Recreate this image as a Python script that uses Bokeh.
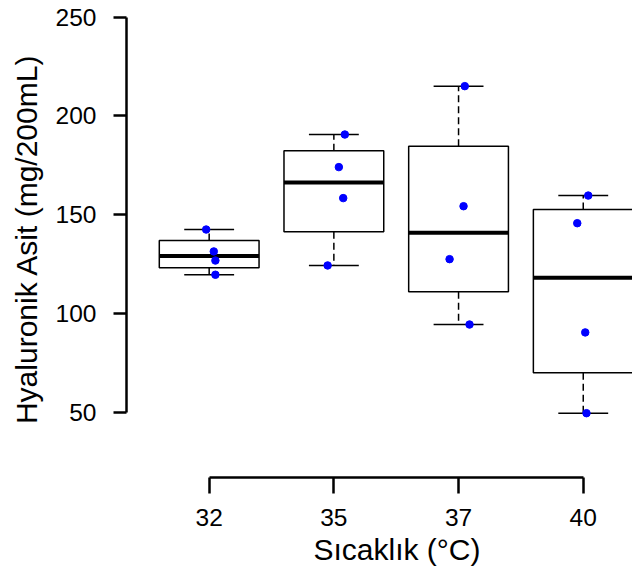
import numpy as np
from bokeh.plotting import figure
from bokeh.models import FixedTicker, Range1d, Title
from bokeh.embed import file_html
from bokeh.resources import INLINE

# ---- data ----
categories = ["32", "35", "37", "40"]
values_32 = [142.5, 131.4, 126.8, 119.6]
values_35 = [190.6, 174.1, 158.4, 124.3]
values_37 = [215.1, 154.3, 127.5, 94.4]
values_40 = [159.7, 145.7, 90.4, 49.5]
jitter_32 = [-0.024, 0.037, 0.05, 0.05]
jitter_35 = [0.088, 0.04, 0.075, -0.05]
jitter_37 = [0.05, 0.04, -0.072, 0.088]
jitter_40 = [0.04, -0.048, 0.016, 0.026]
y_ticks = [50, 100, 150, 200, 250]
x_title = "Sıcaklık (°C)"
y_title = "Hyaluronik Asit (mg/200mL)"

groups = [values_32, values_35, values_37, values_40]
jitters = [jitter_32, jitter_35, jitter_37, jitter_40]


def fivenum(v):
    x = np.sort(np.asarray(v, dtype=float))
    n = len(x)
    n4 = np.floor((n + 3) / 2) / 2
    d = np.array([1, n4, (n + 1) / 2, n + 1 - n4, n]) - 1
    return 0.5 * (x[np.floor(d).astype(int)] + x[np.ceil(d).astype(int)])


FONT = "Liberation Sans"
BOX_W = 0.8

p = figure(width=632, height=572, output_backend="svg", toolbar_location=None,
           x_range=Range1d(0.337, 4.395), y_range=Range1d(16.94, 258.46),
           min_border_left=126, min_border_right=0, min_border_top=0,
           min_border_bottom=95)
p.outline_line_color = None
p.xgrid.visible = False
p.ygrid.visible = False
p.background_fill_color = "white"
p.border_fill_color = "white"

xs = np.arange(1, len(categories) + 1)
stats = [fivenum(g) for g in groups]
q1 = [s[1] for s in stats]
med = [s[2] for s in stats]
q3 = [s[3] for s in stats]
lo, hi = [], []
for g, s in zip(groups, stats):
    iqr = s[3] - s[1]
    arr = np.asarray(g)
    lo.append(arr[arr >= s[1] - 1.5 * iqr].min())
    hi.append(arr[arr <= s[3] + 1.5 * iqr].max())

# whiskers (dashed)
p.segment(x0=xs, x1=xs, y0=q3, y1=hi, line_color="black", line_width=1.5, line_dash="7 4")
p.segment(x0=xs, x1=xs, y0=q1, y1=lo, line_color="black", line_width=1.5, line_dash="7 4")
# caps
p.segment(x0=xs - BOX_W / 4, x1=xs + BOX_W / 4, y0=hi, y1=hi, line_color="black", line_width=1.5)
p.segment(x0=xs - BOX_W / 4, x1=xs + BOX_W / 4, y0=lo, y1=lo, line_color="black", line_width=1.5)
# boxes
p.quad(left=xs - BOX_W / 2, right=xs + BOX_W / 2, bottom=q1, top=q3,
       fill_color="white", line_color="black", line_width=1.5)
# medians
p.segment(x0=xs - BOX_W / 2, x1=xs + BOX_W / 2, y0=med, y1=med, line_color="black", line_width=4)

# points
px, py = [], []
for i, (g, j) in enumerate(zip(groups, jitters)):
    for v, o in zip(g, j):
        px.append(xs[i] + o)
        py.append(v)
p.scatter(px, py, size=7.5, fill_color="#0000FF", line_color="#0000FF")

# axes
xa = p.xaxis[0]
xa.ticker = FixedTicker(ticks=list(xs))
xa.major_label_overrides = {int(x): c for x, c in zip(xs, categories)}
xa.bounds = (1, len(categories))
xa.minor_tick_line_color = None
xa.major_tick_out = 16
xa.major_tick_in = 0
xa.axis_line_width = 2.5
xa.major_tick_line_width = 2.5
xa.major_label_text_font = FONT
xa.major_label_text_font_size = "24.5px"
xa.major_label_text_color = "black"
xa.major_label_standoff = 15

ya = p.yaxis[0]
ya.ticker = FixedTicker(ticks=y_ticks)
ya.bounds = (y_ticks[0], y_ticks[-1])
ya.minor_tick_line_color = None
ya.major_tick_out = 13
ya.major_tick_in = 0
ya.axis_line_width = 2.5
ya.major_tick_line_width = 2.5
ya.major_label_text_font = FONT
ya.major_label_text_font_size = "24.5px"
ya.major_label_text_color = "black"
ya.major_label_standoff = 17
ya.major_label_orientation = "horizontal"
ya.axis_label = y_title
ya.axis_label_text_font = FONT
ya.axis_label_text_font_size = "30px"
ya.axis_label_text_font_style = "normal"
ya.axis_label_text_color = "black"
ya.axis_label_standoff = 10

p.add_layout(Title(text=x_title, align="left", offset=187, vertical_align="top",
                   standoff=8, text_font=FONT, text_font_size="30px",
                   text_font_style="normal", text_color="black"), "below")

open("out.html", "w").write(file_html(p, INLINE))
